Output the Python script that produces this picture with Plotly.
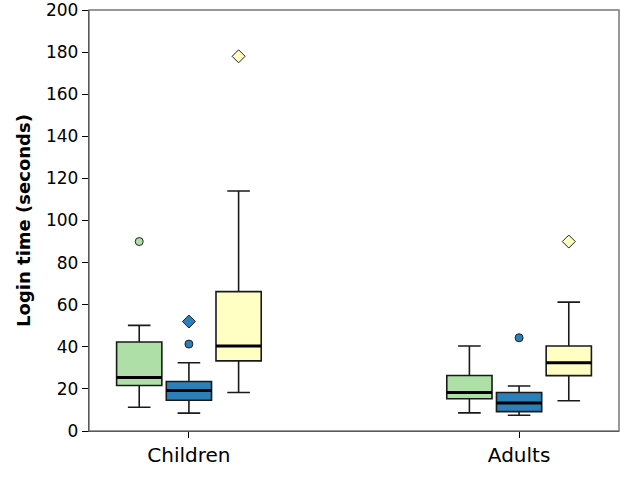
import plotly.graph_objects as go

categories = ["Children", "Adults"]
series_names = ["Group A", "Group B", "Group C"]
colors = ["#addfa6", "#2c80b9", "#ffffc4"]

# per series: values for [Children, Adults]
lower_whisker = [[11.3, 8.6], [8.5, 7.5], [18.3, 14.4]]
q1_vals = [[21.6, 15.3], [14.6, 9.2], [33.3, 26.3]]
median_vals = [[25.4, 18.3], [19.2, 13.3], [40.4, 32.4]]
q3_vals = [[42.3, 26.4], [23.5, 18.3], [66.2, 40.4]]
upper_whisker = [[50.2, 40.4], [32.4, 21.4], [114.0, 61.2]]

# outliers: (series index, category index, value, marker symbol)
outlier_series = [0, 1, 1, 2, 1, 2]
outlier_cat = [0, 0, 0, 0, 1, 1]
outlier_vals = [90.0, 41.3, 52.0, 178.0, 44.3, 90.0]
outlier_symbol = ["circle", "circle", "diamond", "diamond", "circle", "diamond"]

y_ticks = [0, 20, 40, 60, 80, 100, 120, 140, 160, 180, 200]

offset = 0.1505
box_w = 0.137

fig = go.Figure()
for s in range(3):
    xs = [c + (s - 1) * offset for c in range(len(categories))]
    fig.add_trace(go.Box(
        x=xs, q1=q1_vals[s], median=median_vals[s], q3=q3_vals[s],
        lowerfence=lower_whisker[s], upperfence=upper_whisker[s],
        fillcolor=colors[s], line=dict(color="#1a1a1a", width=1.6),
        width=box_w, whiskerwidth=0.5, boxpoints=False,
        name=series_names[s], showlegend=False, hoverinfo="skip",
    ))
    for c in range(len(categories)):
        x0 = c + (s - 1) * offset
        fig.add_trace(go.Scatter(
            x=[x0 - box_w / 2, x0 + box_w / 2],
            y=[median_vals[s][c], median_vals[s][c]],
            mode="lines", line=dict(color="black", width=3),
            showlegend=False, hoverinfo="skip",
        ))

for i in range(len(outlier_vals)):
    s = outlier_series[i]
    fig.add_trace(go.Scatter(
        x=[outlier_cat[i] + (s - 1) * offset], y=[outlier_vals[i]],
        mode="markers",
        marker=dict(symbol=outlier_symbol[i], color=colors[s], size=8 if outlier_symbol[i] == "circle" else 10,
                    line=dict(color="#222222", width=1)),
        showlegend=False, hoverinfo="skip",
    ))

fig.update_layout(
    width=625, height=500,
    margin=dict(l=89, r=6, t=10, b=69),
    paper_bgcolor="white", plot_bgcolor="white",
    font=dict(family="DejaVu Sans", color="black"),
    shapes=[dict(type="rect", xref="paper", yref="paper", x0=0, x1=1, y0=0, y1=1,
                 line=dict(color="#777777", width=1.5))],
)
fig.update_xaxes(
    range=[-0.3026, 1.3026], tickvals=list(range(len(categories))), ticktext=categories,
    showline=True, linecolor="black", linewidth=1.3, ticks="outside", ticklen=6,
    tickcolor="black", tickfont=dict(size=20), showgrid=False, zeroline=False,
    automargin=False,
)
fig.update_yaxes(
    range=[0, 200], tickvals=y_ticks, showline=True, linecolor="black", linewidth=1.3,
    ticks="outside", ticklen=6, tickcolor="black", tickfont=dict(size=17),
    showgrid=False, zeroline=False, automargin=False, ticklabeloverflow="allow",
    title=dict(text="<b>Login time (seconds)</b>", font=dict(size=18), standoff=10),
)

fig.write_html(
    "out.html",
    config={"displayModeBar": False},
    post_script="document.body.style.margin='0';document.body.style.padding='0';",
)
